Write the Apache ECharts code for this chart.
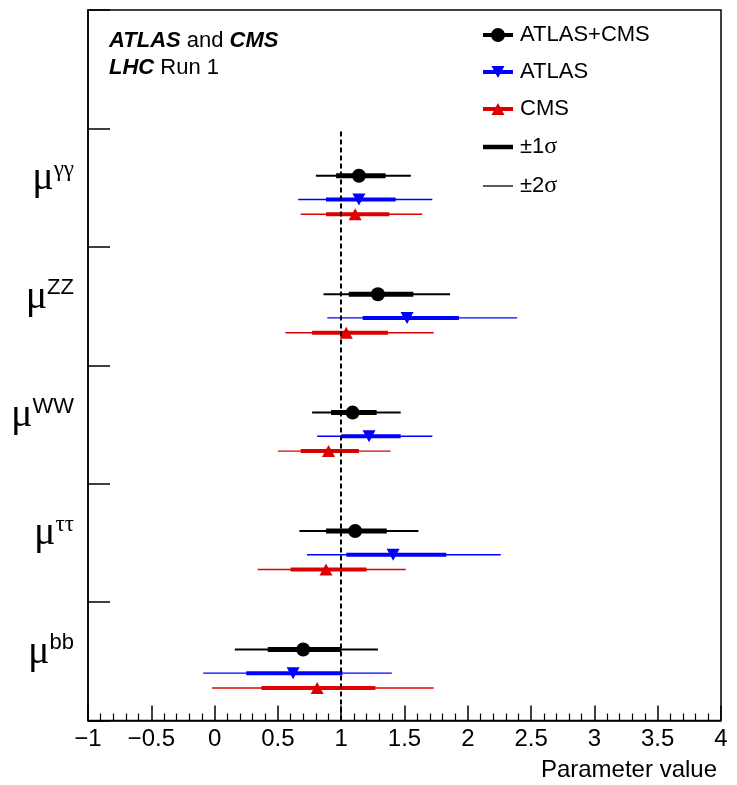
<!DOCTYPE html>
<html>
<head>
<meta charset="utf-8">
<script src="https://cdn.jsdelivr.net/npm/echarts@6/dist/echarts.min.js"></script>
<style>
  html, body { margin: 0; padding: 0; background: #fff; }
  #main { width: 737px; height: 785px; }
</style>
</head>
<body>
<div id="main"></div>
<script>
// rows from bottom to top
var channels = ['bb', 'ττ', 'WW', 'ZZ', 'γγ'];
var greekSup = [false, true, false, false, true];

// ATLAS+CMS combined: central, -1σ, +1σ, -2σ, +2σ edges
var comboCentral = [0.70, 1.11, 1.09, 1.29, 1.14];
var combo1Lo = [0.42, 0.88, 0.92, 1.06, 0.96];
var combo1Hi = [1.00, 1.36, 1.28, 1.57, 1.35];
var combo2Lo = [0.16, 0.67, 0.77, 0.86, 0.80];
var combo2Hi = [1.29, 1.61, 1.47, 1.86, 1.55];

// ATLAS
var atlasCentral = [0.62, 1.41, 1.22, 1.52, 1.14];
var atlas1Lo = [0.25, 1.04, 1.00, 1.17, 0.88];
var atlas1Hi = [1.01, 1.83, 1.47, 1.93, 1.43];
var atlas2Lo = [-0.09, 0.73, 0.81, 0.89, 0.66];
var atlas2Hi = [1.40, 2.26, 1.72, 2.39, 1.72];

// CMS
var cmsCentral = [0.81, 0.88, 0.90, 1.04, 1.11];
var cms1Lo = [0.37, 0.60, 0.68, 0.77, 0.88];
var cms1Hi = [1.27, 1.20, 1.14, 1.37, 1.38];
var cms2Lo = [-0.02, 0.34, 0.50, 0.56, 0.68];
var cms2Hi = [1.73, 1.51, 1.39, 1.73, 1.64];

var xTicks = [-1, 4, 0.5];   // min, max, step
var smValue = 1;              // standard model reference line

function rows(c, l1, h1, l2, h2) {
  var out = [];
  for (var i = 0; i < c.length; i++) {
    out.push([c[i], l1[i], h1[i], l2[i], h2[i], i]);
  }
  return out;
}

function makeRender(offset, marker, thick, thin) {
  return function (params, api) {
    var y = api.value(5) + offset;
    var c = api.coord([api.value(0), y]);
    var a1 = api.coord([api.value(1), y]);
    var b1 = api.coord([api.value(2), y]);
    var a2 = api.coord([api.value(3), y]);
    var b2 = api.coord([api.value(4), y]);
    var color = api.visual('color');
    var kids = [
      { type: 'line', shape: { x1: a2[0], y1: a2[1], x2: b2[0], y2: b2[1] }, style: { stroke: color, lineWidth: thin } },
      { type: 'line', shape: { x1: a1[0], y1: a1[1], x2: b1[0], y2: b1[1] }, style: { stroke: color, lineWidth: thick } }
    ];
    var x = c[0], yy = c[1];
    if (marker === 'circle') {
      kids.push({ type: 'circle', shape: { cx: x, cy: yy, r: 7 }, style: { fill: color } });
    } else if (marker === 'down') {
      kids.push({ type: 'polygon', shape: { points: [[x - 6.5, yy - 6], [x + 6.5, yy - 6], [x, yy + 6]] }, style: { fill: color } });
    } else {
      kids.push({ type: 'polygon', shape: { points: [[x, yy - 6], [x + 6.5, yy + 6], [x - 6.5, yy + 6]] }, style: { fill: color } });
    }
    return { type: 'group', children: kids };
  };
}

var chart = echarts.init(document.getElementById('main'));
var font = 'Liberation Sans';

var option = {
  backgroundColor: '#fff',
  animation: false,
  title: {
    text: '{b|ATLAS} and {b|CMS}\n{b|LHC} Run 1',
    left: 104,
    top: 22,
    textStyle: {
      fontFamily: font, fontSize: 22, fontWeight: 'normal', color: '#000', lineHeight: 27,
      rich: {
        b: { fontFamily: font, fontSize: 22, fontWeight: 'bold', fontStyle: 'italic', color: '#000', lineHeight: 27 }
      }
    }
  },
  legend: {
    orient: 'vertical',
    left: 483,
    top: 24,
    padding: 0,
    itemWidth: 30,
    itemHeight: 14,
    itemGap: 15,
    selectedMode: false,
    itemStyle: { borderWidth: 0 },
    textStyle: {
      fontFamily: font, fontSize: 22, color: '#000', padding: [0, 0, 0, 2],
      rich: { g: { fontFamily: 'Liberation Serif', fontSize: 24, color: '#000' } }
    },
    formatter: function (name) { return name.replace('σ', '{g|σ}'); },
    data: [
      { name: 'ATLAS+CMS', icon: 'path://M0,5 L30,5 L30,9 L0,9 Z M22,7 A7,7 0 1,1 8,7 A7,7 0 1,1 22,7 Z' },
      { name: 'ATLAS', icon: 'path://M0,5 L30,5 L30,9 L0,9 Z M8.5,1 L21.5,1 L15,13 Z' },
      { name: 'CMS', icon: 'path://M0,5 L30,5 L30,9 L0,9 Z M15,1 L21.5,13 L8.5,13 Z' },
      { name: '±1σ', icon: 'path://M0,0 L30,0 L30,4.5 L0,4.5 Z' },
      { name: '±2σ', icon: 'path://M0,0 L30,0 L30,1.3 L0,1.3 Z' }
    ]
  },
  grid: {
    left: 88, right: 16, top: 10, bottom: 64.5,
    show: true, borderColor: '#000', borderWidth: 1.5, backgroundColor: 'transparent'
  },
  xAxis: {
    type: 'value',
    min: xTicks[0], max: xTicks[1], interval: xTicks[2],
    name: 'Parameter value',
    nameLocation: 'end',
    nameGap: 0,
    nameTextStyle: { fontFamily: font, fontSize: 24, color: '#000', align: 'right', verticalAlign: 'top', padding: [38, 4, 0, 0] },
    axisLine: { onZero: false, lineStyle: { color: '#000', width: 1.5 } },
    axisTick: { inside: true, length: 15, lineStyle: { color: '#000', width: 1.5 } },
    minorTick: { show: true, splitNumber: 5, length: 7, lineStyle: { color: '#000', width: 1.2 } },
    axisLabel: {
      fontFamily: font, fontSize: 24, color: '#000', margin: 7,
      formatter: function (v) { return String(v).replace('-', '\u2212'); }
    },
    splitLine: { show: false }
  },
  yAxis: [
    {
      type: 'value', min: 0, max: 6, interval: 1, position: 'left',
      axisLine: { onZero: false, lineStyle: { color: '#000', width: 1.5 } },
      axisTick: { inside: true, length: 22, lineStyle: { color: '#000', width: 1.5 } },
      axisLabel: { show: false },
      splitLine: { show: false }
    },
    {
      type: 'value', min: 0, max: 6, interval: 0.5, position: 'left',
      axisLine: { show: false, onZero: false }, axisTick: { show: false }, splitLine: { show: false },
      axisLabel: {
        margin: 14,
        padding: [0, 0, 18, 0],
        formatter: function (v) {
          var i = v - 0.5;
          if (i % 1 !== 0 || i < 0 || i >= channels.length) return '';
          return '{mu|μ}{' + (greekSup[i] ? 'gs' : 'ls') + '|' + channels[i] + '}';
        },
        rich: {
          mu: { fontFamily: 'Liberation Serif', fontSize: 40, color: '#000', lineHeight: 40, verticalAlign: 'bottom' },
          gs: { fontFamily: 'Liberation Serif', fontSize: 23, color: '#000', lineHeight: 20, verticalAlign: 'top' },
          ls: { fontFamily: font, fontSize: 22, color: '#000', lineHeight: 20, verticalAlign: 'top' }
        }
      }
    }
  ],
  series: [
    {
      name: 'ATLAS+CMS', type: 'custom', yAxisIndex: 0,
      itemStyle: { color: '#000' },
      encode: { x: [0, 1, 2, 3, 4], y: 5 },
      renderItem: makeRender(0.6, 'circle', 5, 2),
      data: rows(comboCentral, combo1Lo, combo1Hi, combo2Lo, combo2Hi)
    },
    {
      name: 'ATLAS', type: 'custom', yAxisIndex: 0,
      itemStyle: { color: '#0000ff' },
      encode: { x: [0, 1, 2, 3, 4], y: 5 },
      renderItem: makeRender(0.4, 'down', 4, 1.4),
      data: rows(atlasCentral, atlas1Lo, atlas1Hi, atlas2Lo, atlas2Hi)
    },
    {
      name: 'CMS', type: 'custom', yAxisIndex: 0,
      itemStyle: { color: '#dd0000' },
      encode: { x: [0, 1, 2, 3, 4], y: 5 },
      renderItem: makeRender(0.275, 'up', 4, 1.4),
      data: rows(cmsCentral, cms1Lo, cms1Hi, cms2Lo, cms2Hi),
      markLine: {
        silent: true, symbol: 'none', z: 10,
        label: { show: false },
        lineStyle: { color: '#000', width: 2, type: [5, 3] },
        data: [[{ coord: [smValue, 0] }, { coord: [smValue, 5] }]]
      }
    },
    { name: '±1σ', type: 'line', data: [], itemStyle: { color: '#000' }, lineStyle: { color: '#000' } },
    { name: '±2σ', type: 'line', data: [], itemStyle: { color: '#000' }, lineStyle: { color: '#000' } }
  ]
};

chart.setOption(option);
</script>
</body>
</html>
